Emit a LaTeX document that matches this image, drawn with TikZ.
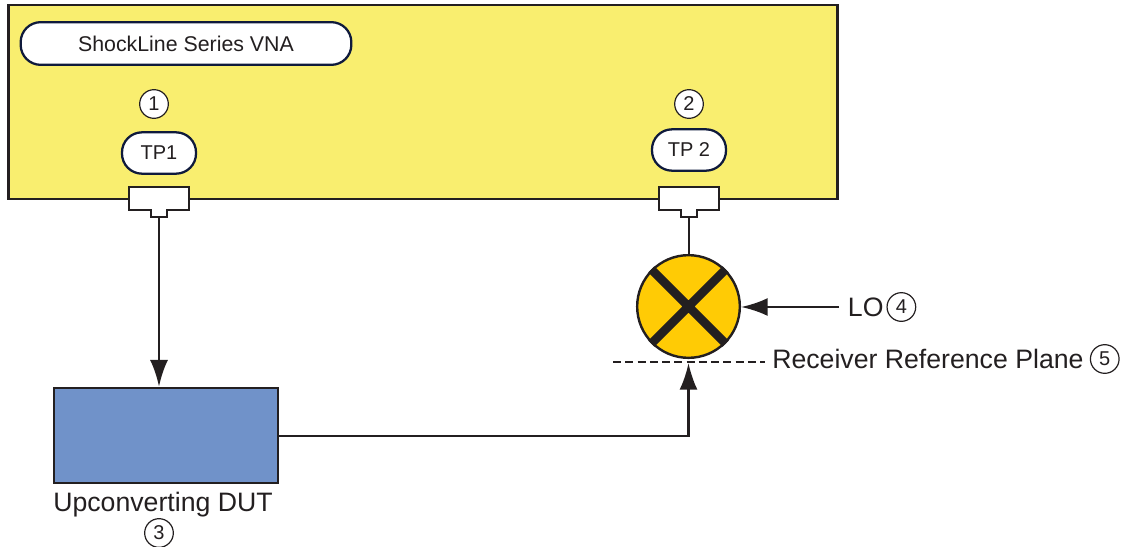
\documentclass[tikz,border=0pt]{standalone}
\usepackage{fontspec}
\setmainfont{Liberation Sans}
\usetikzlibrary{arrows.meta,positioning}
\definecolor{VnaYellow}{HTML}{F9EE6F}
\definecolor{MixOrange}{HTML}{FFCB05}
\definecolor{DutBlue}{HTML}{7092C9}
\definecolor{LineBlack}{HTML}{231F20}
\definecolor{PillNavy}{HTML}{0F1A3C}

\begin{document}
\begin{tikzpicture}[x=0.75pt,y=-0.75pt,
  vna/.style={draw=LineBlack,line width=2.2pt,fill=VnaYellow,minimum width=621.5pt,minimum height=145.5pt,inner sep=0pt},
  pill/.style={draw=PillNavy,line width=1.7pt,rounded corners=15pt,fill=white,text=LineBlack,minimum height=31pt,inner sep=0pt,font=\fontsize{15}{18}\selectfont},
  num/.style={draw=LineBlack,line width=0.9pt,circle,fill=white,text=LineBlack,minimum size=21.5pt,inner sep=0pt,font=\fontsize{15}{18}\selectfont},
  lbl/.style={text=LineBlack,inner sep=0pt,font=\fontsize{20}{24}\selectfont},
  mixer/.style={draw=LineBlack,line width=1.8pt,circle,fill=MixOrange,minimum size=77pt,inner sep=0pt},
  dut/.style={draw=LineBlack,line width=1.8pt,fill=DutBlue,minimum width=168pt,minimum height=71.5pt,inner sep=0pt},
  lien/.style={line width=1.9pt,LineBlack},
  fleche/.style={lien,-{Latex[length=20pt,width=13.5pt]}},
  portbox/.style={draw=LineBlack,line width=1.9pt,fill=white},
  pics/tport/.style={code={
    \draw[portbox] (-30,-12) -- (30,-12) -- (30,11) -- (8,11) -- (8,18) -- (-8,18) -- (-8,11) -- (-30,11) -- cycle;
    \coordinate (-tip) at (0,18);}}]
  \useasboundingbox (0,0) rectangle (1127,546);
  \node[vna] (box) at (423,102) {};
  \node[pill,minimum width=248pt,minimum height=32pt,font=\fontsize{16}{19}\selectfont] (title) at (186,43.5) {ShockLine Series VNA};
  \node[num] (n1) at (154,104) {1};
  \node[pill,minimum width=55.5pt] (tp1) at (159,153) {TP1};
  \node[num] (n2) at (689,104) {2};
  \node[pill,minimum width=55.5pt] (tp2) at (689,150) {TP 2};
  \pic (pa) at (159,199) {tport};
  \pic (pb) at (689,199) {tport};
  \node[mixer] (mix) at (688.5,306.5) {};
  \draw[LineBlack,line width=6.5pt] (mix.north west) -- (mix.south east) (mix.north east) -- (mix.south west);
  \node[dut] (up) at (166,435.5) {};
  \node[lbl] (dutlbl) at (163,504.5) {Upconverting DUT};
  \node[num] (n3) at (159,533) {3};
  \coordinate (lostart) at (839,307);
  \node[lbl,right=6.5pt of lostart] (lo) {LO};
  \node[num,right=2pt of lo] (n4) {4};
  \node[lbl,anchor=west] (rrp) at (772,359) {Receiver Reference Plane};
  \node[num,right=4.5pt of rrp] (n5) {5};
  \coordinate (planeleft) at (613,362);
  \coordinate (planeright) at (765,362);
  \coordinate (planemid) at (688.5,363);
  \draw[lien,line width=2.2pt,dash pattern=on 6pt off 3.2pt] (planeleft) -- (planeright);
  \draw[fleche] (pa-tip) -- (pa-tip |- up.north);
  \draw[lien] (pb-tip) -- (pb-tip |- mix.north);
  \draw[fleche] (lostart) -- (lostart -| mix.east);
  \draw[fleche] (up.east |- 0,436) -| (planemid);
\end{tikzpicture}
\end{document}
